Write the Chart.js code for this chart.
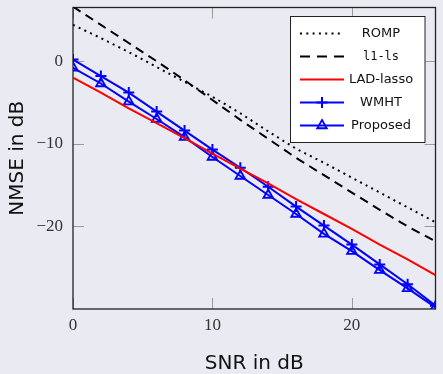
<!DOCTYPE html>
<html>
<head>
<meta charset="utf-8">
<script src="https://cdn.jsdelivr.net/npm/chart.js@4/dist/chart.umd.min.js"></script>
<style>
  body { margin: 0; background: #eaeaf2; }
  #wrap { width: 443px; height: 374px; position: relative; }
</style>
</head>
<body>
<div id="wrap"><canvas id="chart"></canvas></div>
<script>
// SNR values (dB) and NMSE curves (dB)
const snr = [0, 2, 4, 6, 8, 10, 12, 14, 16, 18, 20, 22, 24, 26];
const romp = [4.4, 2.8, 1.1, -0.7, -2.5, -4.3, -6.3, -8.5, -10.6, -12.3, -14.1, -15.9, -17.7, -19.5];
const l1ls = [6.6, 4.4, 2.2, 0.0, -2.3, -4.7, -7.1, -9.4, -11.7, -13.8, -15.9, -18.0, -20.0, -21.8];
const ladLasso = [-2.0, -3.8, -5.7, -7.5, -9.3, -11.2, -13.0, -14.8, -16.7, -18.5, -20.3, -22.2, -24.0, -25.9];
const wmht = [0.2, -1.8, -3.8, -6.1, -8.4, -10.7, -12.9, -15.2, -17.6, -19.9, -22.2, -24.6, -27.0, -29.6];
const proposed = [-0.8, -2.7, -4.9, -7.0, -9.2, -11.6, -13.9, -16.2, -18.5, -20.9, -23.0, -25.3, -27.5, -29.8];

const xTicks = [0, 10, 20];
const yTicks = [-20, -10, 0];

const pts = arr => arr.map((v, i) => ({ x: snr[i], y: v }));

// legend entries (drawn inside the plot, like pgfplots)
const legendItems = [
  { label: 'ROMP', color: '#000', dash: [2, 4.3], mark: null, mono: false },
  { label: 'l1-ls', color: '#000', dash: [10, 7], mark: null, mono: true },
  { label: 'LAD-lasso', color: '#ff0000', dash: [], mark: null, mono: false },
  { label: 'WMHT', color: '#0000ff', dash: [], mark: 'cross', mono: false },
  { label: 'Proposed', color: '#0000ff', dash: [], mark: 'triangle', mono: false }
];

function line(ctx, x1, y1, x2, y2) {
  ctx.beginPath(); ctx.moveTo(x1, y1); ctx.lineTo(x2, y2); ctx.stroke();
}

// box axis with inward ticks on all four sides
const framePlugin = {
  id: 'frame',
  beforeDatasetsDraw(chart) {
    const { ctx, chartArea: a, scales: { x, y } } = chart;
    ctx.save();
    ctx.strokeStyle = '#9a9a9a';
    ctx.lineWidth = 1;
    xTicks.forEach(v => {
      const px = Math.round(x.getPixelForValue(v)) + 0.5;
      line(ctx, px, a.bottom, px, a.bottom - 11);
      line(ctx, px, a.top, px, a.top + 11);
    });
    yTicks.forEach(v => {
      const py = Math.round(y.getPixelForValue(v)) + 0.5;
      line(ctx, a.left, py, a.left + 11, py);
      line(ctx, a.right, py, a.right - 11, py);
    });
    ctx.strokeStyle = '#222';
    ctx.lineWidth = 1.3;
    ctx.strokeRect(a.left, a.top, a.right - a.left, a.bottom - a.top);
    ctx.restore();
  },
  afterDraw(chart) {
    const ctx = chart.ctx;
    ctx.save();
    const bx = 290.5, by = 16.5, bw = 134.5, bh = 126;
    ctx.fillStyle = '#fff';
    ctx.fillRect(bx, by, bw, bh);
    ctx.strokeStyle = '#222';
    ctx.lineWidth = 1;
    ctx.strokeRect(bx, by, bw, bh);
    legendItems.forEach((it, i) => {
      const yy = 33.5 + i * 23;
      ctx.strokeStyle = it.color;
      ctx.lineWidth = 2;
      ctx.setLineDash(it.dash);
      line(ctx, 300, yy, 344, yy);
      ctx.setLineDash([]);
      if (it.mark === 'cross') {
        line(ctx, 322, yy - 5.5, 322, yy + 5.5);
        line(ctx, 316.5, yy, 327.5, yy);
      } else if (it.mark === 'triangle') {
        const r = 5.5;
        ctx.lineWidth = 1.8;
        ctx.beginPath();
        ctx.moveTo(322, yy - r);
        ctx.lineTo(322 + r * 0.866, yy + r / 2);
        ctx.lineTo(322 - r * 0.866, yy + r / 2);
        ctx.closePath();
        ctx.stroke();
      }
      ctx.fillStyle = '#111';
      ctx.font = it.mono ? '12px "DejaVu Sans Mono"' : '13px "DejaVu Sans"';
      ctx.textAlign = 'center';
      ctx.textBaseline = 'middle';
      ctx.fillText(it.label, 381, yy);
    });
    ctx.restore();
  }
};

const ctx = document.getElementById('chart').getContext('2d');
new Chart(ctx, {
  type: 'line',
  data: {
    datasets: [
      { label: 'ROMP', data: pts(romp), borderColor: '#000', borderWidth: 2,
        borderDash: [2, 4.3], pointRadius: 0 },
      { label: 'l1-ls', data: pts(l1ls), borderColor: '#000', borderWidth: 2,
        borderDash: [9, 6], pointRadius: 0 },
      { label: 'LAD-lasso', data: pts(ladLasso), borderColor: '#ff0000', borderWidth: 2,
        pointRadius: 0 },
      { label: 'WMHT', data: pts(wmht), borderColor: '#0000ff', borderWidth: 2,
        pointStyle: 'cross', pointRadius: 5.5, pointBorderWidth: 2 },
      { label: 'Proposed', data: pts(proposed), borderColor: '#0000ff', borderWidth: 2,
        pointStyle: 'triangle', pointRadius: 5.5, pointBorderWidth: 1.8,
        pointBackgroundColor: 'rgba(0,0,0,0)' }
    ]
  },
  options: {
    responsive: true,
    maintainAspectRatio: false,
    animation: false,
    layout: { padding: { top: 7, right: 7, left: 0, bottom: 0 } },
    plugins: { legend: { display: false }, tooltip: { enabled: false } },
    elements: { line: { tension: 0 } },
    scales: {
      x: {
        type: 'linear', min: 0, max: 26,
        afterFit: s => { s.height = 65; s.paddingLeft = 0; s.paddingRight = 0; },
        afterBuildTicks: s => { s.ticks = xTicks.map(v => ({ value: v })); },
        grid: { display: false, drawTicks: false },
        border: { display: false },
        ticks: { padding: 6, color: '#333', font: { family: 'Liberation Serif', size: 17 },
          maxRotation: 0, callback: v => String(v) },
        title: { display: true, text: 'SNR in dB', color: '#111',
          font: { family: 'DejaVu Sans', size: 20, lineHeight: 1 }, padding: { top: 0, bottom: 0 } }
      },
      y: {
        type: 'linear', min: -30, max: 6.5,
        afterFit: s => { s.width = 73; s.paddingTop = 0; s.paddingBottom = 0; },
        afterBuildTicks: s => { s.ticks = yTicks.map(v => ({ value: v })); },
        grid: { display: false, drawTicks: false },
        border: { display: false },
        ticks: { padding: 10, color: '#333', font: { family: 'Liberation Serif', size: 17 },
          callback: v => String(v).replace('-', '\u2212') },
        title: { display: true, text: 'NMSE in dB', color: '#111',
          font: { family: 'DejaVu Sans', size: 20, lineHeight: 1 }, padding: { top: 8, bottom: 0 } }
      }
    }
  },
  plugins: [framePlugin]
});
</script>
</body>
</html>
